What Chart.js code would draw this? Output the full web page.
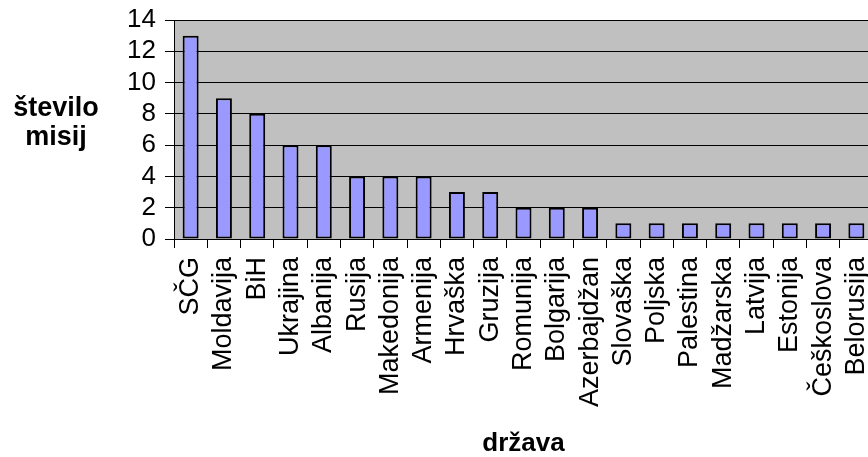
<!DOCTYPE html>
<html>
<head>
<meta charset="utf-8">
<script src="https://cdn.jsdelivr.net/npm/chart.js@4.4.1/dist/chart.umd.min.js"></script>
<style>
  html, body { margin: 0; padding: 0; overflow: hidden; background: #fff; }
  #wrap { position: relative; width: 868px; height: 457px; overflow: hidden; }
  #c { position: absolute; left: 0; top: 0; }
  #ytitle {
    position: absolute; left: 0; top: 93px; width: 112px;
    font: bold 27px "Liberation Sans", Arial, sans-serif;
    line-height: 29px; text-align: center; color: #000;
  }
</style>
</head>
<body>
<div id="wrap">
  <canvas id="c" width="873" height="457"></canvas>
  <div id="ytitle">število<br>misij</div>
</div>
<script>
// Number of missions per country
const countries = ['SČG', 'Moldavija', 'BiH', 'Ukrajina', 'Albanija', 'Rusija', 'Makedonija',
  'Armenija', 'Hrvaška', 'Gruzija', 'Romunija', 'Bolgarija', 'Azerbajdžan', 'Slovaška',
  'Poljska', 'Palestina', 'Madžarska', 'Latvija', 'Estonija', 'Češkoslova', 'Belorusija'];
const missions = [13, 9, 8, 6, 6, 4, 4, 4, 3, 3, 2, 2, 2, 1, 1, 1, 1, 1, 1, 1, 1];
const yTicks = [0, 2, 4, 6, 8, 10, 12, 14];
const xTitle = 'država';

const FONT = '"Liberation Sans", Arial, sans-serif';

// grey plot-area background
const plotBackground = {
  id: 'plotBackground',
  beforeDraw(chart) {
    const { ctx, chartArea: a } = chart;
    ctx.save();
    ctx.fillStyle = '#c0c0c0';
    ctx.fillRect(a.left, a.top, a.right - a.left, a.bottom - a.top);
    ctx.restore();
  }
};

new Chart(document.getElementById('c'), {
  type: 'bar',
  data: {
    labels: countries,
    datasets: [{
      data: missions,
      backgroundColor: '#9999ff',
      borderColor: '#000000',
      borderWidth: 2,
      borderSkipped: false,
      categoryPercentage: 1,
      barPercentage: 0.48
    }]
  },
  options: {
    responsive: false,
    animation: false,
    layout: { padding: { left: 127, top: 20, right: 0, bottom: 0 } },
    plugins: { legend: { display: false }, tooltip: { enabled: false } },
    scales: {
      x: {
        offset: true,
        grid: {
          offset: true,
          drawOnChartArea: false,
          drawTicks: true,
          tickLength: 9,
          color: '#000',
          lineWidth: 1
        },
        border: { color: '#000', width: 1 },
        ticks: {
          autoSkip: false,
          maxRotation: 90,
          minRotation: 90,
          padding: 9,
          color: '#000',
          font: { family: FONT, size: 27 }
        },
        title: {
          display: true,
          text: xTitle,
          color: '#000',
          padding: { top: 0, bottom: 0 },
          font: { family: FONT, size: 26, weight: 'bold', lineHeight: 1.0 }
        },
        afterFit(scale) {
          scale.height = 218;
          scale.paddingLeft = 0;
          scale.paddingRight = 0;
        }
      },
      y: {
        min: 0,
        max: 14,
        afterBuildTicks(scale) { scale.ticks = yTicks.map(v => ({ value: v })); },
        grid: {
          color: '#000',
          lineWidth: 1,
          tickLength: 9,
          drawTicks: true
        },
        border: { color: '#000', width: 1 },
        ticks: {
          autoSkip: false,
          padding: 9,
          color: '#000',
          font: { family: FONT, size: 26 }
        },
        afterFit(scale) {
          scale.width = 47;
          scale.paddingTop = 0;
          scale.paddingBottom = 0;
        }
      }
    }
  },
  plugins: [plotBackground]
});
</script>
</body>
</html>
